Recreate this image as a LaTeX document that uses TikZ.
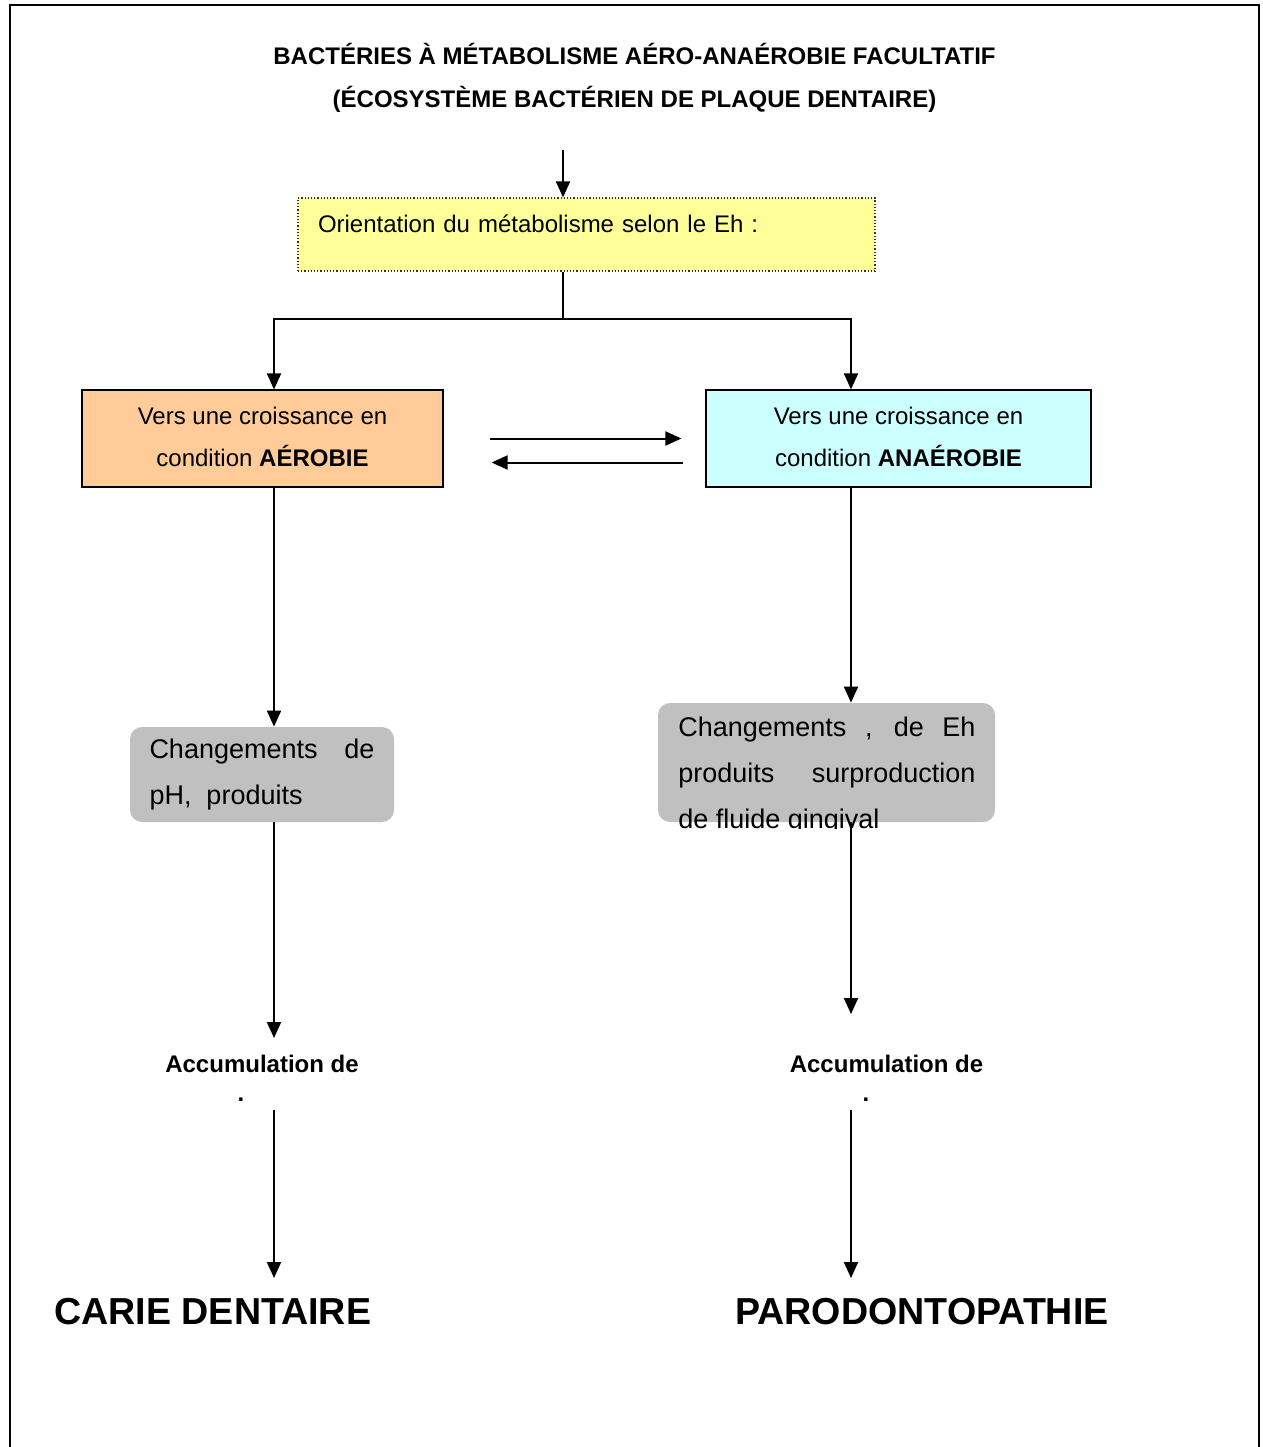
\documentclass[tikz,border=0pt]{standalone}
\usepackage{fontspec}
\setmainfont{Liberation Sans}
\usetikzlibrary{arrows.meta,positioning,calc}

\definecolor{boxyellow}{HTML}{FFFF99}
\definecolor{boxorange}{HTML}{FFCC99}
\definecolor{boxcyan}{HTML}{CCFFFF}
\definecolor{boxgrey}{HTML}{C0C0C0}

\begin{document}
\begin{tikzpicture}[
  x=0.5pt, y=-0.5pt,
  >={Triangle[length=8pt,width=7pt]},
  every node/.style={font=\fontsize{12}{14}\selectfont},
  box/.style={draw, line width=0.6pt, inner sep=0pt},
  growth/.style={box, minimum width=#1, minimum height=48.5pt, align=center,
                 text depth=1.5pt, font=\fontsize{12}{21}\selectfont},
  change/.style={fill=boxgrey, rounded corners=6pt, inner sep=0pt},
  changetext/.style={text width=#1, align=justify, inner sep=0pt,
                     font=\fontsize{13.5}{23}\selectfont},
  title/.style={anchor=base, font=\bfseries\fontsize{12}{14}\selectfont},
  accum/.style={anchor=base, font=\bfseries\fontsize{12}{14}\selectfont},
  disease/.style={anchor=west, inner sep=0pt, font=\bfseries\fontsize{18.8}{22}\selectfont},
  arrow/.style={->, line width=1pt},
  link/.style={line width=1pt},
]
  \useasboundingbox (0,0) rectangle (1263,1447);
  \draw[line width=0.6pt] (10,1447) -- (10,5) -- (1259,5) -- (1259,1447);

  % column positions of the vertical connectors
  \coordinate (colL) at (274,0);
  \coordinate (colR) at (851,0);
  \coordinate (top) at (563,150);
  \coordinate (split) at (563,319);

  \node[title] (title) at (634.5,64.5)
    {BACTÉRIES À MÉTABOLISME AÉRO-ANAÉROBIE FACULTATIF};
  \node[title] (subtitle) at (634.5,107.5)
    {(ÉCOSYSTÈME BACTÉRIEN DE PLAQUE DENTAIRE)};

  \node[box, draw=black!80, densely dotted, fill=boxyellow, inner xsep=10pt,
        text width=268.5pt, align=left, text height=17.25pt, text depth=19.25pt]
    (orient) at (586.5,234.5) {Orientation du métabolisme selon le Eh :};

  \node[growth=180.5pt, fill=boxorange] (aero) at (262.5,438.5)
    {Vers une croissance en\\condition \textbf{AÉROBIE}};
  \node[growth=192.5pt, fill=boxcyan] (anaero) at (898.5,438.5)
    {Vers une croissance en\\condition \textbf{ANAÉROBIE}};

  \node[change, minimum width=132pt, minimum height=47.5pt,
        changetext=112.5pt] (chgL) at (262,774.5)
    {Changements de pH,\ \ produits};
  \node[change, minimum width=168.5pt, minimum height=59.5pt] (chgR) at (826.5,762.5) {};
  \begin{scope}
    \clip (600,690) rectangle (1050,828.5);
    \node[changetext=148.5pt, anchor=base west] (chgRtext) at (678,736)
      {Changements , de Eh\linebreak produits surproduction\linebreak de fluide gingival};
  \end{scope}

  \node[accum] (accL) at (262,1072) {Accumulation de};
  \node[accum] (dotL) at (241,1101) {.};
  \node[accum] (accR) at (886.5,1072) {Accumulation de};
  \node[accum] (dotR) at (866,1101) {.};

  \node[disease] (carie) at (54,1311.5) {CARIE DENTAIRE};
  \node[disease] (paro) at (735,1311.5) {PARODONTOPATHIE};

  \coordinate (aL) at (274,1038);
  \coordinate (aR) at (851,1014);
  \coordinate (bL) at (274,1110);
  \coordinate (bR) at (851,1110);
  \coordinate (eL) at (274,1278);
  \coordinate (eR) at (851,1278);

  \draw[arrow] (top) -- (orient.north -| top);
  \draw[link] (orient.south -| top) -- (split);
  \draw[arrow] (split) -| (aero.north -| colL);
  \draw[arrow] (split) -| (anaero.north -| colR);

  \draw[arrow, shorten <=23pt, shorten >=12pt] (aero.east) -- (anaero.west);
  \draw[arrow, shorten <=11pt, shorten >=24pt]
    ([yshift=-12pt]anaero.west) -- ([yshift=-12pt]aero.east);

  \draw[arrow] (aero.south -| colL) -- (chgL.north -| colL);
  \draw[arrow] (anaero.south -| colR) -- (chgR.north -| colR);
  \draw[arrow] (chgL.south -| colL) -- (aL);
  \draw[arrow] (chgR.south -| colR) -- (aR);
  \draw[arrow] (bL) -- (eL);
  \draw[arrow] (bR) -- (eR);
\end{tikzpicture}
\end{document}
